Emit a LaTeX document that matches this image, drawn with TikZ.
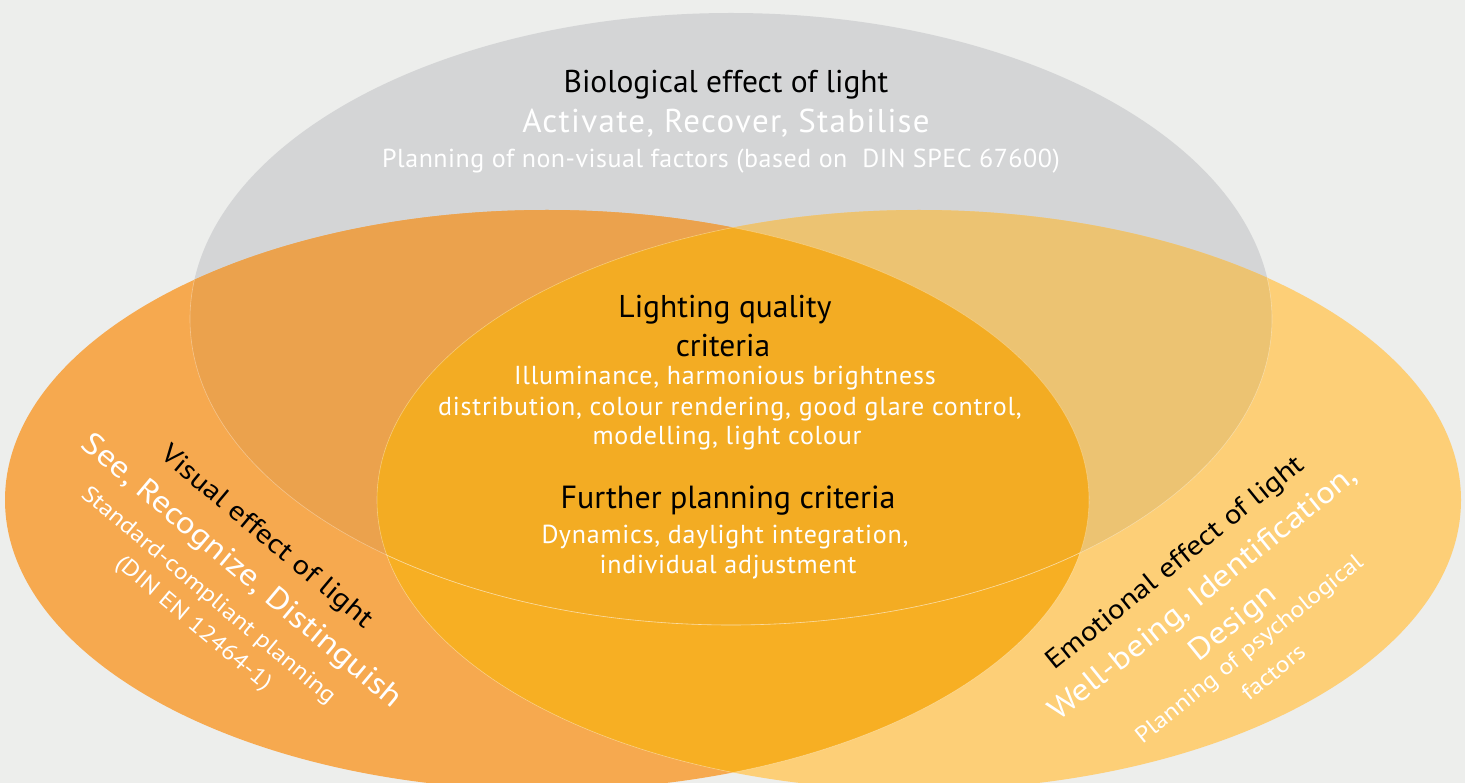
\documentclass[tikz,border=0pt]{standalone}
\usepackage{fontspec}
\setmainfont{PT Sans}
\newfontfamily\condfont{PT Sans}
\newfontfamily\widefont[FakeStretch=1.15]{PT Sans}
\definecolor{bgc}{HTML}{EDEEEC}
\definecolor{grayc}{HTML}{D4D5D6}
\definecolor{leftc}{HTML}{F6A94F}
\definecolor{leftgray}{HTML}{EBA24D}
\definecolor{rightc}{HTML}{FDCF77}
\definecolor{rightgray}{HTML}{ECC372}
\definecolor{lensc}{HTML}{F7AF23}
\definecolor{lensgray}{HTML}{F3AC23}
\tikzset{
  edgeline/.style={draw=white, draw opacity=0.35, line width=0.6pt},
  blk/.style={text=black, inner sep=0pt},
  wht/.style={text=white, inner sep=0pt},
}
\begin{document}
\begin{tikzpicture}[x=1pt,y=-1pt]
\useasboundingbox (0,0) rectangle (1465,783);
\fill[bgc] (0,0) rectangle (1465,783);
% base ellipses
\fill[grayc] (731,319) ellipse [x radius=541pt, y radius=306pt];
\fill[leftc] (547,500) ellipse [x radius=542pt, y radius=290pt];
\fill[rightc] (919,500) ellipse [x radius=542pt, y radius=290pt];
% overlaps with gray
\begin{scope}
  \clip (731,319) ellipse [x radius=541pt, y radius=306pt];
  \fill[leftgray] (547,500) ellipse [x radius=542pt, y radius=290pt];
  \fill[rightgray] (919,500) ellipse [x radius=542pt, y radius=290pt];
\end{scope}
% lens
\begin{scope}
  \clip (547,500) ellipse [x radius=542pt, y radius=290pt];
  \fill[lensc] (919,500) ellipse [x radius=542pt, y radius=290pt];
  \clip (919,500) ellipse [x radius=542pt, y radius=290pt];
  \fill[lensgray] (731,319) ellipse [x radius=541pt, y radius=306pt];
\end{scope}
% faint edges
\begin{scope}
  \clip (547,500) ellipse [x radius=542pt, y radius=290pt];
  \draw[edgeline] (919,500) ellipse [x radius=542pt, y radius=290pt];
  \draw[edgeline] (731,319) ellipse [x radius=541pt, y radius=306pt];
\end{scope}
\begin{scope}
  \clip (919,500) ellipse [x radius=542pt, y radius=290pt];
  \draw[edgeline] (547,500) ellipse [x radius=542pt, y radius=290pt];
  \draw[edgeline] (731,319) ellipse [x radius=541pt, y radius=306pt];
\end{scope}
% top texts
\node[blk, anchor=base] (bio) at (726,93) {\condfont\fontsize{31.5}{36}\selectfont Biological effect of light};
\node[wht, anchor=base] (act) at (726,133) {\condfont\addfontfeature{LetterSpace=4}\fontsize{33}{38}\selectfont Activate, Recover, Stabilise};
\node[wht, anchor=base] (plan) at (721,168) {\condfont\addfontfeature{LetterSpace=2}\fontsize{26}{30}\selectfont Planning of non-visual factors (based on\ \ DIN SPEC 67600)};
% centre texts
\node[blk, anchor=base] (lq1) at (725,318) {\condfont\fontsize{31.5}{36}\selectfont Lighting quality};
\node[blk, anchor=base] (lq2) at (723,357) {\condfont\fontsize{31.5}{36}\selectfont criteria};
\node[wht, anchor=base] (il1) at (725,385) {\condfont\addfontfeature{LetterSpace=3}\fontsize{26}{30}\selectfont Illuminance, harmonious brightness};
\node[wht, anchor=base] (il2) at (730,416) {\condfont\addfontfeature{LetterSpace=3}\fontsize{26}{30}\selectfont distribution, colour rendering, good glare control,};
\node[wht, anchor=base] (il3) at (727,445) {\condfont\addfontfeature{LetterSpace=3}\fontsize{26}{30}\selectfont modelling, light colour};
\node[blk, anchor=base] (fp) at (728,508) {\condfont\fontsize{32}{36}\selectfont Further planning criteria};
\node[wht, anchor=base] (dy1) at (725,543) {\condfont\addfontfeature{LetterSpace=3}\fontsize{26}{30}\selectfont Dynamics, daylight integration,};
\node[wht, anchor=base] (dy2) at (728,573) {\condfont\addfontfeature{LetterSpace=3}\fontsize{26}{30}\selectfont individual adjustment};
% left rotated texts
\node[blk, rotate=-40] (vis) at (266,538) {\widefont\fontsize{27}{30}\selectfont Visual effect of light};
\node[wht, rotate=-40] (see) at (241,572) {\widefont\fontsize{30.5}{34}\selectfont See, Recognize, Distinguish};
\node[wht, rotate=-40] (std) at (208,596) {\widefont\fontsize{22.6}{26}\selectfont Standard-compliant planning};
\node[wht, rotate=-40] (din) at (193,624) {\widefont\fontsize{22.6}{26}\selectfont (DIN EN 12464-1)};
% right rotated texts
\node[blk, rotate=39] (emo) at (1176,564) {\widefont\fontsize{27}{30}\selectfont Emotional effect of light};
\node[wht, rotate=39] (well) at (1204,594) {\widefont\fontsize{30.5}{34}\selectfont Well-being, Identification,};
\node[wht, rotate=39] (des) at (1234,624) {\widefont\fontsize{30.5}{34}\selectfont Design};
\node[wht, rotate=39] (pp) at (1250,650) {\widefont\fontsize{22.6}{26}\selectfont Planning of psychological};
\node[wht, rotate=39] (fac) at (1273,672) {\widefont\fontsize{22.6}{26}\selectfont factors};
\end{tikzpicture}
\end{document}
